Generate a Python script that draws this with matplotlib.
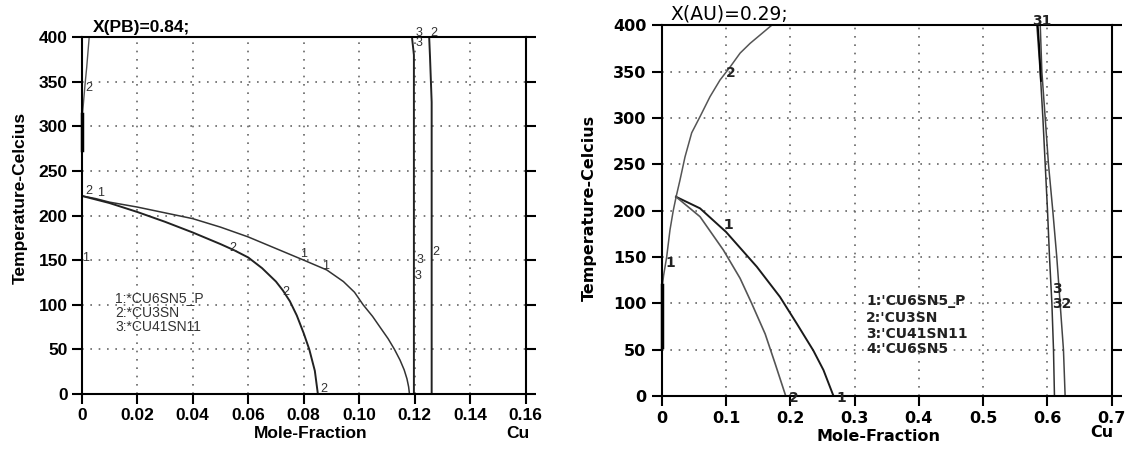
import matplotlib
matplotlib.use("Agg")
from matplotlib import pyplot as plt

# ---- left panel data: X(PB)=0.84 ----
# upper liquidus (label 1: CU6SN5_P)
l_c1_x = [0.0, 0.005, 0.010, 0.020, 0.030, 0.040, 0.050, 0.060, 0.070, 0.080,
          0.0883, 0.0943, 0.0983, 0.1014, 0.1048, 0.1077, 0.1104, 0.1127, 0.1147,
          0.1162, 0.1172, 0.1178, 0.1181]
l_c1_t = [222, 219, 215, 209.5, 203, 196.5, 187, 176, 163, 150,
          139, 126, 114, 100, 87, 74, 62, 50, 38,
          27, 17, 8, 0]
# lower curve (label 2: CU3SN)
l_c2_x = [0.0, 0.010, 0.020, 0.030, 0.040, 0.050, 0.055, 0.060, 0.065, 0.070,
          0.0725, 0.075, 0.0775, 0.080, 0.082, 0.084, 0.0851]
l_c2_t = [222, 214, 204, 193, 181, 168, 161, 153, 141, 126,
          116, 104, 88, 68, 50, 26, 0]
# small boundary close to x=0
l_c3_x = [0.0, 0.0003, 0.0012, 0.0018, 0.0027]
l_c3_t = [273, 314, 347, 366, 400]
l_c3b_x = [0.0, 0.0]
l_c3b_t = [273, 314]
# near vertical lines (3: CU41SN11 and 2: CU3SN)
l_v3_x = [0.1197, 0.1197, 0.1190]
l_v3_t = [0, 380, 400]
l_v2_x = [0.1261, 0.1261, 0.1255, 0.1252]
l_v2_t = [0, 327, 378, 400]

l_lbl_txt = ["2", "1", "2", "1", "1", "2", "2", "1", "2", "3", "3", "2", "3", "3", "2"]
l_lbl_x = [0.0024, 0.0068, 0.0544, 0.0799, 0.0880, 0.0736, 0.0873, 0.0015, 0.0027,
           0.1219, 0.1213, 0.1277, 0.1215, 0.1215, 0.1267]
l_lbl_t = [228, 225, 164, 157, 143, 114, 6, 152, 343, 150, 132, 159, 405, 393, 405]
l_legend = ["1:*CU6SN5_P", "2:*CU3SN", "3:*CU41SN11"]
l_legend_t = [108, 91, 75]

# ---- right panel data: X(AU)=0.29 ----
r_c0_x = [0.0005, 0.003, 0.0078, 0.0129, 0.018, 0.0225, 0.0285, 0.0363, 0.0467,
          0.0597, 0.0752, 0.0908, 0.1064, 0.122, 0.1375, 0.153, 0.171]
r_c0_t = [115, 130, 150, 179, 200, 215, 233, 258, 284,
          301.5, 323, 341, 355, 370, 380.5, 389.5, 400]
r_c0b_x = [0.0, 0.0]
r_c0b_t = [53, 120]
r_c1_x = [0.0223, 0.0597, 0.1002, 0.148, 0.184, 0.2103, 0.236, 0.2517, 0.2673]
r_c1_t = [215, 202.5, 177, 139.5, 107, 78, 49, 28, 0]
r_c2_x = [0.0223, 0.0597, 0.096, 0.122, 0.140, 0.161, 0.1765, 0.193]
r_c2_t = [215, 193.5, 157.5, 127, 100, 67, 35, 0]
r_v3_x = [0.5837, 0.5888, 0.5930, 0.5966, 0.6002, 0.6033, 0.6070, 0.6095, 0.6110]
r_v3_t = [400, 350, 300, 250, 200, 150, 100, 50, 0]
r_v2_x = [0.5889, 0.5914, 0.5966, 0.6017, 0.6084, 0.6146, 0.6198, 0.6250, 0.6276]
r_v2_t = [400, 350, 300, 250, 200, 150, 100, 50, 0]
r_v1_x = [0.5850, 0.5870, 0.5900]
r_v1_t = [400, 380, 340]

r_lbl_txt = ["2", "1", "1", "2", "1", "31", "3", "32"]
r_lbl_x = [0.1075, 0.1038, 0.014, 0.205, 0.280, 0.592, 0.615, 0.623]
r_lbl_t = [349, 184, 144, -2, -2, 405, 116, 99]
r_legend = ["1:'CU6SN5_P", "2:'CU3SN", "3:'CU41SN11", "4:'CU6SN5"]
r_legend_t = [102, 84, 67, 51]

fig = plt.figure(figsize=(11.27, 4.49), dpi=100)

grid_style = dict(linestyle=(0, (1, 4)), color="#666666", linewidth=1.2)

# ---------------- left ----------------
LF = "Liberation Sans"
ax1 = fig.add_axes([0.0725, 0.1225, 0.394, 0.795])
ax1.plot(l_c1_x, l_c1_t, color="#333333", lw=1.1)
ax1.plot(l_c2_x, l_c2_t, color="#222222", lw=1.4)
ax1.plot(l_c3_x, l_c3_t, color="#555555", lw=1.0)
ax1.plot(l_c3b_x, l_c3b_t, color="black", lw=2.5, clip_on=False)
ax1.plot(l_v3_x, l_v3_t, color="#222222", lw=1.4)
ax1.plot(l_v2_x, l_v2_t, color="#222222", lw=1.4)
ax1.set_xlim(0, 0.16)
ax1.set_ylim(0, 400)
ax1.set_xticks([0, 0.02, 0.04, 0.06, 0.08, 0.10, 0.12, 0.14, 0.16])
ax1.set_xticklabels(["0", "0.02", "0.04", "0.06", "0.08", "0.10", "0.12", "0.14", "0.16"])
ax1.set_yticks(range(0, 401, 50))
ax1.grid(True, **grid_style)
ax1.tick_params(direction="out", length=7, width=1.5, right=True, pad=3)
for lab in ax1.get_xticklabels() + ax1.get_yticklabels():
    lab.set_fontfamily(LF)
    lab.set_fontweight("bold")
    lab.set_fontsize(12.5)
for s in ax1.spines.values():
    s.set_linewidth(1.5)
for t, x, y in zip(l_lbl_txt, l_lbl_x, l_lbl_t):
    ax1.text(x, y, t, fontsize=9, family=LF, color="#333333", ha="center", va="center",
             clip_on=False)
for i, t in enumerate(l_legend):
    ax1.text(0.012, l_legend_t[i], t, fontsize=10, family=LF, color="#333333",
             ha="left", va="center")
ax1.text(0.004, 402, "X(PB)=0.84;", fontsize=12.5, family=LF, fontweight="bold",
         ha="left", va="bottom")
ax1.text(0.0826, -44, "Mole-Fraction", fontsize=12.5, family=LF, fontweight="bold",
         ha="center", va="center")
ax1.text(0.1573, -44, "Cu", fontsize=12.5, family=LF, fontweight="bold",
         ha="center", va="center")
ax1.text(-0.022, 220, "Temperature-Celcius", fontsize=12.5, family=LF, fontweight="bold",
         rotation=90, ha="center", va="center")

# ---------------- right ----------------
RF = "DejaVu Sans"
ax2 = fig.add_axes([0.5871, 0.118, 0.3993, 0.8256])
ax2.plot(r_c0_x, r_c0_t, color="#555555", lw=1.1)
ax2.plot(r_c0b_x, r_c0b_t, color="black", lw=2.5, clip_on=False)
ax2.plot(r_c1_x, r_c1_t, color="#1a1a1a", lw=1.4)
ax2.plot(r_c2_x, r_c2_t, color="#555555", lw=1.2)
ax2.plot(r_v3_x, r_v3_t, color="#333333", lw=1.1)
ax2.plot(r_v2_x, r_v2_t, color="#444444", lw=1.1)
ax2.plot(r_v1_x, r_v1_t, color="black", lw=1.3)
ax2.set_xlim(0, 0.7)
ax2.set_ylim(0, 400)
ax2.set_xticks([0, 0.1, 0.2, 0.3, 0.4, 0.5, 0.6, 0.7])
ax2.set_xticklabels(["0", "0.1", "0.2", "0.3", "0.4", "0.5", "0.6", "0.7"])
ax2.set_yticks(range(0, 401, 50))
ax2.grid(True, **grid_style)
ax2.tick_params(direction="out", length=7, width=1.5, right=True, pad=4)
for lab in ax2.get_xticklabels() + ax2.get_yticklabels():
    lab.set_fontfamily(RF)
    lab.set_fontweight("bold")
    lab.set_fontsize(11.5)
for s in ax2.spines.values():
    s.set_linewidth(1.5)
for t, x, y in zip(r_lbl_txt, r_lbl_x, r_lbl_t):
    ax2.text(x, y, t, fontsize=10, family=RF, fontweight="bold", color="#222222",
             ha="center", va="center", clip_on=False)
for i, t in enumerate(r_legend):
    ax2.text(0.318, r_legend_t[i], t, fontsize=10, family=RF, fontweight="bold",
             color="#222222", ha="left", va="center")
ax2.text(0.013, 402, "X(AU)=0.29;", fontsize=13.5, family=RF, ha="left", va="bottom")
ax2.text(0.337, -44, "Mole-Fraction", fontsize=11.5, family=RF, fontweight="bold",
         ha="center", va="center")
ax2.text(0.6844, -39, "Cu", fontsize=11.5, family=RF, fontweight="bold",
         ha="center", va="center")
ax2.text(-0.1117, 203, "Temperature-Celcius", fontsize=11.5, family=RF, fontweight="bold",
         rotation=90, ha="center", va="center")

fig.savefig("out.png", dpi=100)
